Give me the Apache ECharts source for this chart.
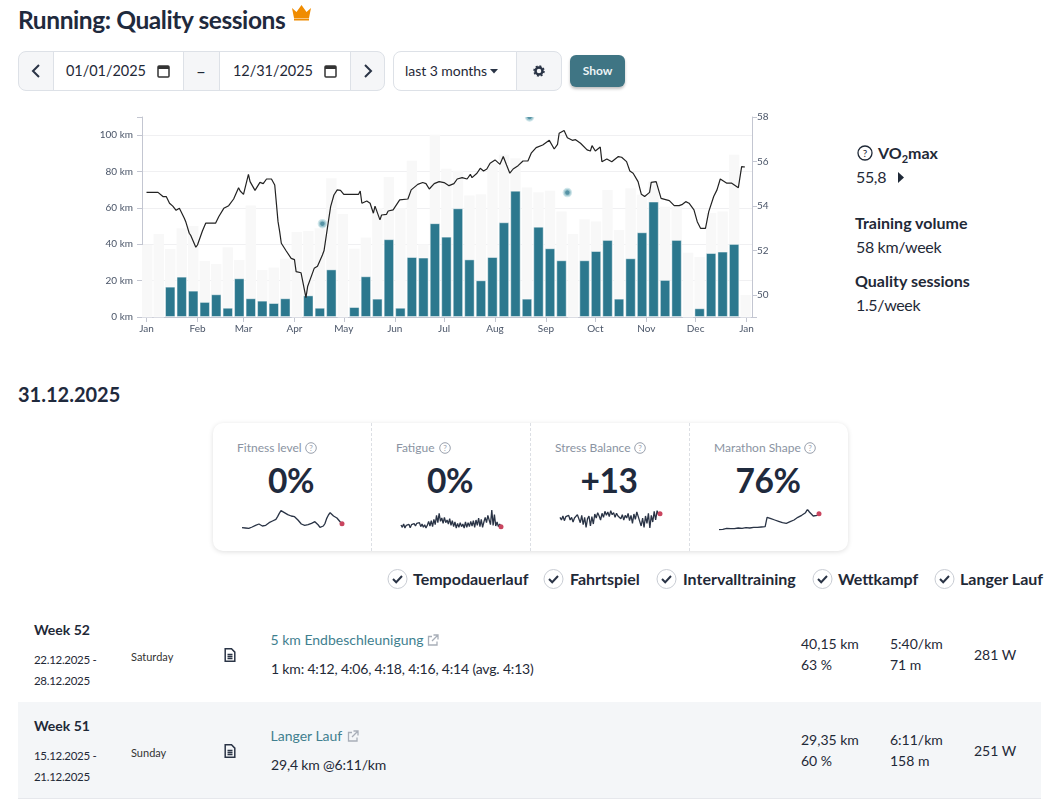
<!DOCTYPE html>
<html>
<head>
<meta charset="utf-8">
<title>Running: Quality sessions</title>
<script src="https://cdn.jsdelivr.net/npm/echarts@6/dist/echarts.min.js"></script>
<style>
html,body{margin:0;padding:0;background:#fff;font-family:Lato,sans-serif;color:#1f2937;overflow:hidden}
#page{position:relative;width:1061px;height:799px;overflow:hidden}
.t{position:absolute;white-space:nowrap;line-height:1;transform:translateY(-50%)}
.c{transform:translate(-50%,-50%)}
.b{font-weight:700}
.box{position:absolute;box-sizing:border-box}
.cell{position:absolute;box-sizing:border-box;top:51px;height:40px;border:1px solid #dde1e7;background:#f5f6f8}
.white{background:#fff}
.lbl{font-size:12px;color:#8a93a2}
.big{font-size:33.500px;font-weight:700;color:#1f2a3d;letter-spacing:-.5px}
.q{position:absolute;width:12px;height:12px}
.spark{position:absolute;width:110px;height:30px}
.link{color:#3f7f8f;font-size:14px}
.small{font-size:11.5px;letter-spacing:-.3px}
.day{font-size:11px;color:#333}
.val{font-size:14px}
.tight{letter-spacing:-.17px}
.side{font-size:16px;letter-spacing:-.35px}
.week{font-size:14px;font-weight:700}
svg{position:absolute}
</style>
</head>
<body>
<div id="page">
	<div class="t" style="left:18px;top:20px;font-size:24.5px;font-weight:700;color:#1f2a3d;letter-spacing:-.42px">Running: Quality sessions</div>
	<svg style="left:291px;top:3px" width="21" height="18" viewBox="0 0 21 18"><path d="M1 5l4.500 4L10.500 2l5 7L20 5l-2 10H3z" fill="#f08c00"/><rect x="3" y="15.500" width="15" height="2" fill="#f08c00"/></svg>

	<!-- 日期选择 -->
	<div class="cell" style="left:18px;width:36px;border-radius:8px 0 0 8px"></div>
	<div class="cell white" style="left:53px;width:131px"></div>
	<div class="cell" style="left:183px;width:37px"></div>
	<div class="cell white" style="left:219px;width:132px"></div>
	<div class="cell" style="left:350px;width:35px;border-radius:0 8px 8px 0"></div>
	<div class="cell white" style="left:393px;width:124px;border-radius:8px 0 0 8px"></div>
	<div class="cell" style="left:516px;width:46px;border-radius:0 8px 8px 0"></div>
	<svg style="left:31px;top:64px" width="10" height="14" viewBox="0 0 10 14"><path d="M8 1L2 7l6 6" fill="none" stroke="#2a3446" stroke-width="2"/></svg>
	<svg style="left:363px;top:64px" width="10" height="14" viewBox="0 0 10 14"><path d="M2 1l6 6-6 6" fill="none" stroke="#2a3446" stroke-width="2"/></svg>
	<div class="t" style="left:66px;top:71px;font-size:14.500px;letter-spacing:-.05px">01/01/2025</div>
	<div class="t" style="left:233px;top:71px;font-size:14.500px;letter-spacing:-.05px">12/31/2025</div>
	<svg style="left:157px;top:64px" width="13" height="14" viewBox="0 0 13 14"><rect x="1" y="2" width="11" height="11" rx="1" fill="none" stroke="#333" stroke-width="1.500"/><rect x="1" y="2" width="11" height="3" fill="#333"/></svg>
	<svg style="left:324px;top:64px" width="13" height="14" viewBox="0 0 13 14"><rect x="1" y="2" width="11" height="11" rx="1" fill="none" stroke="#333" stroke-width="1.500"/><rect x="1" y="2" width="11" height="3" fill="#333"/></svg>
	<div class="t c" style="left:201px;top:71px;font-size:17px">–</div>
	<div class="t" style="left:405px;top:71px;font-size:14px;letter-spacing:-.05px">last 3 months</div>
	<svg style="left:490px;top:69px" width="8" height="5" viewBox="0 0 8 5"><path d="M0 0h8L4 4.500z" fill="#2a3446"/></svg>
	<svg style="left:533px;top:65px" width="12" height="12" viewBox="0 0 12 12"><circle cx="6" cy="6" r="3.500" fill="none" stroke="#2a3446" stroke-width="2.500"/><circle cx="6" cy="6" r="5" fill="none" stroke="#2a3446" stroke-width="1.500" stroke-dasharray="2 1.900"/></svg>
	<div class="box" style="left:570px;top:55px;width:55px;height:32px;border-radius:6px;background:#3f7584;box-shadow:0 2px 3px rgba(0,0,0,.25)"></div>
	<div class="t c b" style="left:597.500px;top:71px;font-size:12px;color:#eef4f6">Show</div>

	<div id="mainChart" style="position:absolute;left:0;top:100px;width:850px;height:245px"></div>
	<!-- 顶部测量点只露出下半部分 -->
	<div class="box" style="left:522px;top:108px;width:14px;height:8.500px;background:#fff"></div>

	<!-- 右侧指标 -->
	<svg style="left:857px;top:145px" width="16" height="16" viewBox="0 0 16 16"><circle cx="8" cy="8" r="7" fill="none" stroke="#1f2937" stroke-width="1.300"/><text x="8" y="11.500" text-anchor="middle" font-size="10" font-family="Lato" fill="#1f2937">?</text></svg>
	<div class="t b" style="left:878px;top:153px;font-size:16px">VO<sub style="font-size:11px;line-height:0">2</sub>max</div>
	<div class="t side" style="left:856px;top:177px">55,8</div>
	<svg style="left:897px;top:172px" width="8" height="11" viewBox="0 0 8 11"><path d="M1 0l6 5.500L1 11z" fill="#1f2937"/></svg>
	<div class="t b" style="left:855px;top:223px;font-size:16px">Training volume</div>
	<div class="t side" style="left:856px;top:247px">58 km/week</div>
	<div class="t b" style="left:855px;top:281px;font-size:16px">Quality sessions</div>
	<div class="t side" style="left:856px;top:305px">1.5/week</div>

	<div class="t b" style="left:18px;top:394px;font-size:20px;color:#1f2a3d">31.12.2025</div>

	<!-- 指标卡片 -->
	<div class="box" style="left:213px;top:423px;width:635px;height:128px;border-radius:10px;box-shadow:0 1px 5px rgba(0,0,0,.13)"></div>
	<div class="box" style="left:371px;top:423px;height:128px;border-left:1px dashed #dcdfe4"></div>
	<div class="box" style="left:530px;top:423px;height:128px;border-left:1px dashed #dcdfe4"></div>
	<div class="box" style="left:689px;top:423px;height:128px;border-left:1px dashed #dcdfe4"></div>

	<div class="t lbl" style="left:237px;top:448px">Fitness level</div>
	<div class="t lbl" style="left:396px;top:448px">Fatigue</div>
	<div class="t lbl" style="left:555px;top:448px">Stress Balance</div>
	<div class="t lbl" style="left:714px;top:448px">Marathon Shape</div>
	<svg class="q" style="left:305px;top:442px" viewBox="0 0 12 12"><circle cx="6" cy="6" r="5.300" fill="none" stroke="#9aa1ad"/><text x="6" y="9" text-anchor="middle" font-size="8" font-family="Lato" fill="#9aa1ad">?</text></svg>
	<svg class="q" style="left:439px;top:442px" viewBox="0 0 12 12"><circle cx="6" cy="6" r="5.300" fill="none" stroke="#9aa1ad"/><text x="6" y="9" text-anchor="middle" font-size="8" font-family="Lato" fill="#9aa1ad">?</text></svg>
	<svg class="q" style="left:634px;top:442px" viewBox="0 0 12 12"><circle cx="6" cy="6" r="5.300" fill="none" stroke="#9aa1ad"/><text x="6" y="9" text-anchor="middle" font-size="8" font-family="Lato" fill="#9aa1ad">?</text></svg>
	<svg class="q" style="left:804px;top:442px" viewBox="0 0 12 12"><circle cx="6" cy="6" r="5.300" fill="none" stroke="#9aa1ad"/><text x="6" y="9" text-anchor="middle" font-size="8" font-family="Lato" fill="#9aa1ad">?</text></svg>
	<div class="t c big" style="left:291px;top:481px">0%</div>
	<div class="t c big" style="left:450px;top:481px">0%</div>
	<div class="t c big" style="left:609px;top:481px">+13</div>
	<div class="t c big" style="left:768px;top:481px">76%</div>
	<div class="spark" id="sparkFitness" style="left:237px;top:505px"></div>
	<div class="spark" id="sparkFatigue" style="left:396px;top:505px"></div>
	<div class="spark" id="sparkStress" style="left:555px;top:505px"></div>
	<div class="spark" id="sparkMarathon" style="left:714px;top:505px"></div>

	<!-- 类型筛选 -->
	<div id="checks"></div>
	<div class="t b" style="left:413px;top:579px;font-size:16px">Tempodauerlauf</div>
	<div class="t b" style="left:570px;top:579px;font-size:16px">Fahrtspiel</div>
	<div class="t b" style="left:683px;top:579px;font-size:16px">Intervalltraining</div>
	<div class="t b" style="left:838px;top:579px;font-size:16px">Wettkampf</div>
	<div class="t b" style="left:960px;top:579px;font-size:16px">Langer Lauf</div>

	<!-- 训练列表 -->
	<div class="box" style="left:18px;top:702px;width:1023px;height:96px;background:#f4f6f8"></div>
	<div class="box" style="left:18px;top:798px;width:1023px;height:1px;background:#e6e8ec"></div>

	<div class="t week" style="left:34px;top:630px">Week 52</div>
	<div class="t small" style="left:34px;top:660px">22.12.2025 -</div>
	<div class="t small" style="left:34px;top:681px">28.12.2025</div>
	<div class="t day" style="left:131px;top:656px">Saturday</div>
	<div class="t link" style="left:270.500px;top:640px">5 km Endbeschleunigung</div>
	<div class="t val tight" style="left:271px;top:669px">1 km: 4:12, 4:06, 4:18, 4:16, 4:14 (avg. 4:13)</div>
	<div class="t val" style="left:801px;top:644px">40,15 km</div>
	<div class="t val" style="left:801px;top:665px">63 %</div>
	<div class="t val" style="left:890px;top:644px">5:40/km</div>
	<div class="t val" style="left:890px;top:665px">71 m</div>
	<div class="t val" style="left:974px;top:655px">281 W</div>

	<div class="t week" style="left:34px;top:726px">Week 51</div>
	<div class="t small" style="left:34px;top:756px">15.12.2025 -</div>
	<div class="t small" style="left:34px;top:777px">21.12.2025</div>
	<div class="t day" style="left:131px;top:752px">Sunday</div>
	<div class="t link" style="left:270.500px;top:736px">Langer Lauf</div>
	<div class="t val tight" style="left:271px;top:765px">29,4 km @6:11/km</div>
	<div class="t val" style="left:801px;top:740px">29,35 km</div>
	<div class="t val" style="left:801px;top:761px">60 %</div>
	<div class="t val" style="left:890px;top:740px">6:11/km</div>
	<div class="t val" style="left:890px;top:761px">158 m</div>
	<div class="t val" style="left:974px;top:751px">251 W</div>

	<svg style="left:224px;top:648px" width="12" height="14" viewBox="0 0 12 14"><path d="M1.200 .800h6.300l3.300 3.300v9.100H1.200zM3.500 6.500h5M3.500 8.500h5M3.500 10.500h5" fill="none" stroke="#2a3446" stroke-width="1.500"/></svg>
	<svg style="left:224px;top:744px" width="12" height="14" viewBox="0 0 12 14"><path d="M1.200 .800h6.300l3.300 3.300v9.100H1.200zM3.500 6.500h5M3.500 8.500h5M3.500 10.500h5" fill="none" stroke="#2a3446" stroke-width="1.500"/></svg>
	<svg style="left:427px;top:634px" width="12" height="12" viewBox="0 0 12 12"><path d="M5 2.500H1.500v8.500H10V7.500M6.500 1H11v4.500M11 1L5 7" fill="none" stroke="#a8aeb8" stroke-width="1.300"/></svg>
	<svg style="left:347px;top:730px" width="12" height="12" viewBox="0 0 12 12"><path d="M5 2.500H1.500v8.500H10V7.500M6.500 1H11v4.500M11 1L5 7" fill="none" stroke="#a8aeb8" stroke-width="1.300"/></svg>
</div>
<script>
//每周跑量（全部），单位km
var weekTotal = [39.6,45.7,37.4,48.8,50.1,30.8,29.2,38.3,31.4,61.3,25.9,27.2,32.1,46.8,47.3,48.8,76.3,56.7,37.6,43.7,60,77,59.8,85.9,40,100.2,81.5,80.4,66.8,67.5,84.6,89.2,87.3,71.2,68.6,69.4,58,45.7,53.8,52.5,69.9,47.9,70.8,67.2,74.5,60.7,60.7,35.4,33,57.2,58,89.2,12.1];
//每周质量训练跑量
var weekQuality = [0,0,16.7,22.2,14.5,8.3,12.5,5.1,21.3,10.3,9,7.7,10.3,0,11.9,5.1,26.2,0,5.5,22.4,10.1,42.8,5.1,33,32.7,51.6,44.2,59.8,31.7,20.2,33,52.1,69.5,10.1,49.7,37.8,31.2,0,31.2,36.3,42.4,10.1,32.3,46.6,63.5,20.4,42.4,0,4.8,35.2,36,40.2,0];
//VO2max曲线：一年中的第几天
var vo2Days = [0,7,10,12,14,16,18,20,23,24,26,27,30,31,32,34,36,42,44,47,48,50,53,54,56,57,59,62,63,66,69,71,73,76,78,80,81,82,85,88,90,91,94,97,98,99,102,104,107,108,110,112,114,116,118,120,129,130,131,134,136,138,139,140,142,143,146,147,150,154,159,161,162,165,166,168,170,172,175,178,181,184,187,189,192,193,195,197,198,201,203,205,207,209,212,215,217,219,221,223,226,229,232,234,237,241,245,246,248,250,251,254,256,259,261,264,268,270,271,273,276,277,280,283,284,287,289,292,294,296,299,301,303,306,307,310,313,318,321,324,326,328,330,333,335,337,340,342,345,347,349,353,356,360,362,363,364];
var vo2Values = [54.61,54.61,54.42,54.42,54.12,53.99,53.8,53.89,53.44,53.26,52.77,52.66,52.14,52.24,52.18,52.87,53.22,53.22,53.52,53.89,53.86,54.01,54.31,54.34,54.82,54.67,54.52,55.42,55.09,54.7,55.06,55,55.21,55.21,54.94,53.29,52.84,52.32,51.97,51.64,51.58,51.04,50.99,49.87,50.37,50.37,51.19,51.28,51.79,51.99,52.99,53.97,54.49,54.72,54.7,54.52,54.52,54.67,54.12,54.22,54.12,53.67,53.99,53.97,53.37,53.59,53.62,53.77,53.82,54.27,54.31,54.72,54.76,54.97,54.94,55.05,55,54.76,55,55.09,55.05,54.91,55,55.21,55.27,55.33,55.21,55.42,55.27,55.47,55.69,55.57,55.66,55.92,56.07,55.87,56.22,55.84,55.47,55.66,55.81,56.02,56.02,56.37,56.62,56.74,56.95,56.89,56.56,56.77,57.27,57.39,57.07,56.95,56.98,56.82,56.52,56.47,56.71,56.47,56.65,55.99,56.11,55.99,56.02,56.22,56.19,55.99,55.57,55.47,55.09,54.52,54.42,54.61,55.06,55.09,54.34,54.24,54.01,54.01,54.07,54.19,54.12,53.82,53.29,52.99,52.99,53.74,54.42,54.72,55.21,55.02,55.02,54.82,55.77,55.81,55.75];
//VO2max单次测量点
var testDays = [107,233,256];
var testValues = [53.2,58,54.6];
//坐标轴刻度
var kmTicks = [0,20,40,60,80,100];
var vo2Ticks = [50,52,54,56,58];
var monthDays = [0,31,59,90,120,151,181,212,243,273,304,334,365];
var monthNames = ['Jan','Feb','Mar','Apr','May','Jun','Jul','Aug','Sep','Oct','Nov','Dec','Jan'];
//迷你图
var sparkFitness = [7,8,6,8,5,7,9,10,14,17,18,15,12,10,14,17,22,24,27,26,32,40,50,58,54,52,50,46,44,42,38,40,34,30,24,18,15,14,17,16,18,20,22,25,22,15,8,10,12,20,35,45,52,48,42,38,36,30,24,19];
var sparkFatigue = [15,8,18,6,14,9,17,7,16,10,19,12,20,14,22,10,18,8,16,6,14,26,12,28,10,32,16,44,22,50,26,36,20,38,22,30,18,34,14,28,10,24,6,20,8,22,10,18,6,24,8,22,10,26,12,28,8,30,14,36,10,32,8,24,38,22,44,30,16,60,14,46,12,24,10,18,10];
var sparkStress = [38,30,42,28,40,34,44,30,38,24,36,32,46,40,22,44,16,38,8,34,42,12,40,18,48,36,52,42,30,50,38,56,44,54,40,58,46,52,38,50,42,48,34,46,30,44,36,50,28,44,20,48,32,54,40,46,12,36,8,42,20,50,6,44,24,56,30,58,46,49];
var sparkMarathon = [1,2,2,4,5,5,4,3,4,5,6,6,5,6,7,7,6,7,8,8,8,9,9,10,10,38,36,34,32,30,28,26,24,22,21,20,22,25,28,30,34,38,36,44,46,52,62,54,48,42,40,44,49];
var checkLeft = [387,543,656,812,934];

//每周柱子放在一周中间（按一年中的第几天）
var weekX = weekTotal.map(function(v,i){
	return 0.43 + i*7;
});
function pairs(xs,ys){
	return ys.map(function(v,i){return [xs[i],v];});
}

var mainChart = echarts.init(document.getElementById('mainChart'));
mainChart.setOption({
	animation:false,
	textStyle:{fontFamily:'Lato'},
	grid:{left:142,width:610,top:17,height:200},
	xAxis:{
		type:'value',
		min:-2.74,
		max:368.3,
		axisLine:{lineStyle:{color:'#c3c6d1'}},
		axisTick:{length:5,lineStyle:{color:'#c3c6d1'},customValues:monthDays},
		axisLabel:{
			customValues:monthDays,
			fontSize:10,
			color:'#4a5568',
			margin:7,
			formatter:function(v){return monthNames[monthDays.indexOf(v)];}
		},
		splitLine:{show:false}
	},
	yAxis:[{
		type:'value',min:0,max:110,
		axisLine:{show:true,onZero:false,lineStyle:{color:'#c3c6d1'}},
		axisTick:{show:true,length:5,lineStyle:{color:'#c3c6d1'},customValues:kmTicks.concat([110])},
		axisLabel:{customValues:kmTicks,fontSize:10,color:'#4a5568',margin:9,formatter:'{value} km'},
		splitLine:{show:true,showMaxLine:false,lineStyle:{color:'#f0f0f2'}}
	},{
		type:'value',min:49,max:58,position:'right',
		axisLine:{show:true,onZero:false,lineStyle:{color:'#c3c6d1'}},
		axisTick:{show:true,length:5,lineStyle:{color:'#c3c6d1'},customValues:vo2Ticks.concat([49])},
		axisLabel:{customValues:vo2Ticks,fontSize:10,color:'#4a5568',margin:5},
		splitLine:{show:false}
	}],
	series:[{
		name:'Total',type:'bar',barWidth:10.4,barGap:'-100%',
		data:pairs(weekX,weekTotal),
		itemStyle:{color:'#f8f8f8'},
		z:1
	},{
		name:'Quality',type:'bar',barWidth:10.4,barGap:'-100%',
		data:pairs(weekX,weekQuality),
		itemStyle:{color:'#2c788e',borderColor:'rgba(255,255,255,.45)',borderWidth:1},
		z:2
	},{
		name:'VO2max',type:'line',yAxisIndex:1,
		data:pairs(vo2Days,vo2Values),
		symbol:'none',
		lineStyle:{color:'#222',width:1.2},
		z:5
	},{
		name:'Test',type:'scatter',yAxisIndex:1,
		data:pairs(testDays,testValues),
		symbolSize:7,
		itemStyle:{color:'#2c788e',borderColor:'rgba(190,220,226,.9)',borderWidth:2.5},
		z:6
	}]
});

//迷你图统一初始化
function initSpark(id,values){
	var chart = echarts.init(document.getElementById(id));
	var last = values.length-1;
	chart.setOption({
		animation:false,
		grid:{left:5,right:5,top:5,bottom:5},
		xAxis:{type:'category',show:false,boundaryGap:false,data:values.map(function(v,i){return i;})},
		yAxis:{type:'value',show:false,min:0,max:60},
		series:[{
			type:'line',
			data:values,
			symbol:'none',
			lineStyle:{color:'#2a3446',width:1.3},
			markPoint:{
				symbol:'circle',symbolSize:5,
				label:{show:false},
				itemStyle:{color:'#c9455f'},
				data:[{coord:[last,values[last]]}]
			}
		}]
	});
	return chart;
}
initSpark('sparkFitness',sparkFitness);
initSpark('sparkFatigue',sparkFatigue);
initSpark('sparkStress',sparkStress);
initSpark('sparkMarathon',sparkMarathon);

//勾选图标
var checks = '';
checkLeft.forEach(function(x){
	checks += '<svg style="left:'+x+'px;top:568px" width="21" height="22" viewBox="0 0 21 22">'
		+'<circle cx="10.500" cy="11" r="9.500" fill="#fff" stroke="#c9cdd4"/>'
		+'<path d="M6 11l3.200 3.200L15 8" fill="none" stroke="#2a3446" stroke-width="2"/></svg>';
});
document.getElementById('checks').innerHTML = checks;
</script>
</body>
</html>
